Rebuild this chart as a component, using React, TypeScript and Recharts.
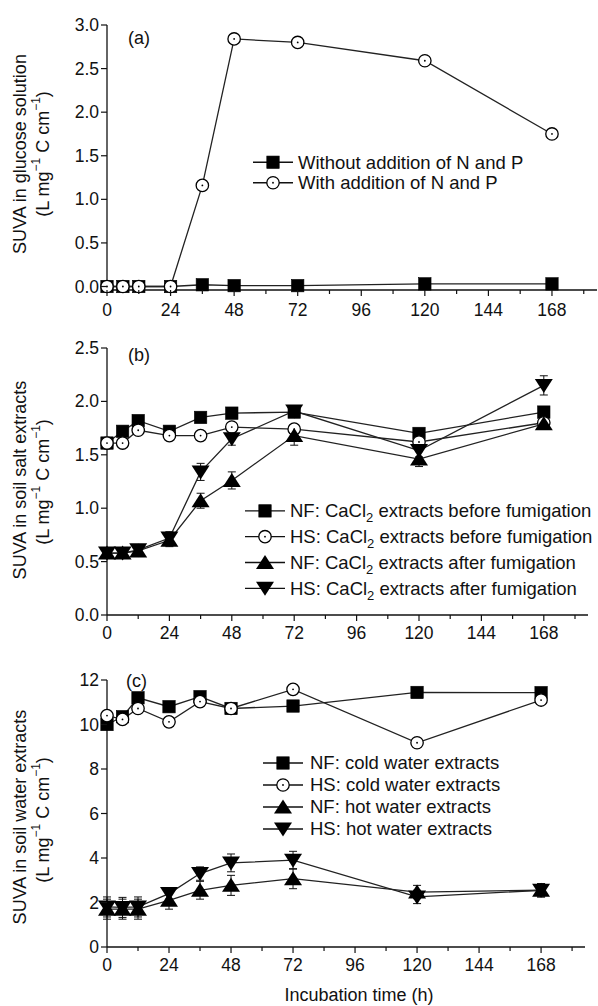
import React from 'react';
import { LineChart, Line, XAxis, YAxis, Legend, ErrorBar } from 'recharts';

const FONT = '"Liberation Sans", Arial, Helvetica, sans-serif';
const INK = '#111';

// ---------- shared x categories ----------
const times = [0, 6, 12, 24, 36, 48, 72, 120, 168];
const xTicks = [0, 12, 24, 36, 48, 60, 72, 84, 96, 108, 120, 132, 144, 156, 168, 180];

// ---------- panel (a) ----------
const withoutNP = [0.0, 0.0, 0.0, 0.0, 0.02, 0.01, 0.01, 0.03, 0.03];
const withNP = [0.0, 0.0, 0.0, 0.0, 1.16, 2.84, 2.8, 2.59, 1.75];
const withNPErr = [0.04, 0.04, 0.04, 0.04, 0.05, 0.02, 0.04, 0.02, 0.02];
const aTicks = [0, 0.5, 1, 1.5, 2, 2.5, 3];

// ---------- panel (b) ----------
const nfBefore = [1.61, 1.72, 1.82, 1.72, 1.85, 1.89, 1.9, 1.7, 1.9];
const hsBefore = [1.61, 1.61, 1.73, 1.68, 1.68, 1.76, 1.74, 1.62, 1.8];
const hsBeforeErr = [0.02, 0.04, 0.04, 0.03, 0.04, 0.04, 0.02, 0.03, 0.02];
const nfAfter = [0.58, 0.58, 0.6, 0.7, 1.07, 1.26, 1.68, 1.46, 1.79];
const nfAfterErr = [0.04, 0.04, 0.04, 0.06, 0.07, 0.08, 0.09, 0.07, 0.05];
const hsAfter = [0.58, 0.58, 0.61, 0.72, 1.34, 1.65, 1.91, 1.54, 2.15];
const hsAfterErr = [0.04, 0.04, 0.04, 0.06, 0.08, 0.06, 0.05, 0.06, 0.09];
const bTicks = [0, 0.5, 1, 1.5, 2, 2.5];

// ---------- panel (c) ----------
const nfCold = [10.0, 10.35, 11.2, 10.8, 11.25, 10.72, 10.83, 11.44, 11.43];
const hsCold = [10.4, 10.23, 10.72, 10.12, 11.03, 10.72, 11.58, 9.18, 11.1];
const hsColdErr = [0.2, 0.2, 0.2, 0.2, 0.2, 0.15, 0.1, 0.2, 0.2];
const nfHot = [1.7, 1.7, 1.7, 2.1, 2.55, 2.77, 3.07, 2.47, 2.55];
const nfHotErr = [0.45, 0.45, 0.45, 0.4, 0.4, 0.45, 0.45, 0.3, 0.3];
const hsHot = [1.8, 1.78, 1.8, 2.4, 3.3, 3.78, 3.9, 2.25, 2.55];
const hsHotErr = [0.45, 0.45, 0.45, 0.25, 0.3, 0.4, 0.4, 0.3, 0.3];
const cTicks = [0, 2, 4, 6, 8, 10, 12];

const dataA = times.map((t, i) => ({ t, s1: withoutNP[i], s2: withNP[i], e2: withNPErr[i] }));
const dataB = times.map((t, i) => ({
  t, s1: nfBefore[i], s2: hsBefore[i], s3: nfAfter[i], s4: hsAfter[i],
  e2: hsBeforeErr[i], e3: nfAfterErr[i], e4: hsAfterErr[i],
}));
const dataC = times.map((t, i) => ({
  t, s1: nfCold[i], s2: hsCold[i], s3: nfHot[i], s4: hsHot[i],
  e2: hsColdErr[i], e3: nfHotErr[i], e4: hsHotErr[i],
}));

type Shape = 'square' | 'circle' | 'up' | 'down';

function Marker({ cx, cy, shape }: { cx?: number; cy?: number; shape: Shape }) {
  if (cx == null || cy == null || isNaN(cx) || isNaN(cy)) return null;
  if (shape === 'square')
    return <rect x={cx - 6.2} y={cy - 6.2} width={12.4} height={12.4} fill="#000" stroke="#000" strokeWidth={0.6} />;
  if (shape === 'circle')
    return (
      <g>
        <circle cx={cx} cy={cy} r={6.2} fill="#fff" stroke="#000" strokeWidth={1.3} />
        <circle cx={cx} cy={cy} r={0.9} fill="#000" />
      </g>
    );
  if (shape === 'up')
    return <polygon points={`${cx},${cy - 7.5} ${cx - 9},${cy + 6.5} ${cx + 9},${cy + 6.5}`} fill="#000" />;
  return <polygon points={`${cx},${cy + 7.5} ${cx - 9},${cy - 6.5} ${cx + 9},${cy - 6.5}`} fill="#000" />;
}

const makeDot = (shape: Shape) => (p: any) => <Marker key={`${shape}-${p.index}`} cx={p.cx} cy={p.cy} shape={shape} />;

const XTick = (props: any) => {
  const { x, y, payload, labelDy } = props;
  const v = payload.value;
  const major = v % 24 === 0;
  return (
    <g>
      <line x1={x} x2={x} y1={y} y2={y + (major ? 6 : 4)} stroke={INK} strokeWidth={1.2} />
      {major && v <= 168 && (
        <text x={x} y={y + labelDy} textAnchor="middle" fontSize={17.5} fontFamily={FONT} fill={INK}>
          {v}
        </text>
      )}
    </g>
  );
};

const YTick = (props: any) => {
  const { x, y, payload, fmt } = props;
  return (
    <g>
      <line x1={x - 6} x2={x} y1={y} y2={y} stroke={INK} strokeWidth={1.2} />
      <text x={x - 8} y={y + 6} textAnchor="end" fontSize={17.5} fontFamily={FONT} fill={INK}>
        {fmt(payload.value)}
      </text>
    </g>
  );
};

const YLabel = ({ title, cy1, cy2, letter, lx, ly }: any) => {
  const x1 = 20;
  const x2 = 43;
  return (
    <g fontFamily={FONT} fill={INK}>
      <text
        x={x1}
        y={cy1}
        transform={`rotate(-90, ${x1}, ${cy1})`}
        textAnchor="middle"
        dominantBaseline="central"
        fontSize={18}
      >
        {title}
      </text>
      <text
        x={x2}
        y={cy2}
        transform={`rotate(-90, ${x2}, ${cy2})`}
        textAnchor="middle"
        dominantBaseline="central"
        fontSize={18}
      >
        <tspan>(L mg</tspan>
        <tspan dy={-7} fontSize={12}>−1</tspan>
        <tspan dy={7}> C cm</tspan>
        <tspan dy={-7} fontSize={12}>−1</tspan>
        <tspan dy={7}>)</tspan>
      </text>
      <text x={lx} y={ly} fontSize={18} dominantBaseline="central">
        {letter}
      </text>
    </g>
  );
};

type LegendItem = { shape: Shape; pre: string; sub?: string; post?: string };

const makeLegend = (items: LegendItem[], rowH: number, lineLen: number, gap: number) => () => (
  <svg width={380} height={rowH * items.length} style={{ display: 'block', overflow: 'visible' }}>
    {items.map((it, i) => {
      const y = rowH * i + rowH / 2;
      return (
        <g key={i}>
          <line x1={0} x2={lineLen} y1={y} y2={y} stroke={INK} strokeWidth={1.3} />
          <Marker cx={lineLen / 2} cy={y} shape={it.shape} />
          <text x={lineLen + gap} y={y + 6.3} fontSize={18.5} fontFamily={FONT} fill={INK}>
            <tspan>{it.pre}</tspan>
            {it.sub && (
              <tspan dy={5} fontSize={13}>
                {it.sub}
              </tspan>
            )}
            {it.post && <tspan dy={it.sub ? -5 : 0}>{it.post}</tspan>}
          </text>
        </g>
      );
    })}
  </svg>
);

const legendA: LegendItem[] = [
  { shape: 'square', pre: 'Without addition of N and P' },
  { shape: 'circle', pre: 'With addition of N and P' },
];
const legendB: LegendItem[] = [
  { shape: 'square', pre: 'NF: CaCl', sub: '2', post: ' extracts before fumigation' },
  { shape: 'circle', pre: 'HS: CaCl', sub: '2', post: ' extracts before fumigation' },
  { shape: 'up', pre: 'NF: CaCl', sub: '2', post: ' extracts after fumigation' },
  { shape: 'down', pre: 'HS: CaCl', sub: '2', post: ' extracts after fumigation' },
];
const legendC: LegendItem[] = [
  { shape: 'square', pre: 'NF: cold water extracts' },
  { shape: 'circle', pre: 'HS: cold water extracts' },
  { shape: 'up', pre: 'NF: hot water extracts' },
  { shape: 'down', pre: 'HS: hot water extracts' },
];

const shapes: Shape[] = ['square', 'circle', 'up', 'down'];

function Panel(props: any) {
  const {
    height, margin, yWidth, domain, ticks, fmt, data, keys, errKeys, legendItems, legendPos, rowH, lineLen, gap,
    title, cy1, cy2, letter, lx, ly, labelDy, xLabel,
  } = props;
  return (
    <LineChart width={598} height={height} data={data} margin={margin} style={{ fontFamily: FONT }}>
      <XAxis
        type="number"
        dataKey="t"
        domain={[0, 185]}
        ticks={xTicks}
        interval={0}
        tickSize={0}
        tickMargin={0}
        tickLine={false}
        axisLine={{ stroke: INK, strokeWidth: 1.3 }}
        tick={<XTick labelDy={labelDy} />}
        height={30}
        label={xLabel}
      />
      <YAxis
        type="number"
        domain={domain}
        ticks={ticks}
        interval={0}
        width={yWidth}
        tickSize={0}
        tickMargin={0}
        tickLine={false}
        axisLine={{ stroke: INK, strokeWidth: 1.3 }}
        tick={<YTick fmt={fmt} />}
        label={<YLabel title={title} cy1={cy1} cy2={cy2} letter={letter} lx={lx} ly={ly} />}
      />
      <Legend
        layout="vertical"
        verticalAlign="middle"
        align="center"
        wrapperStyle={{ left: legendPos[0], top: legendPos[1], width: 380, height: rowH * legendItems.length }}
        content={makeLegend(legendItems, rowH, lineLen, gap)}
      />
      {keys.map((k: string, i: number) => (
        <Line
          key={k}
          type="linear"
          dataKey={k}
          stroke="#222"
          strokeWidth={1.3}
          dot={makeDot(shapes[i])}
          activeDot={false}
          isAnimationActive={false}
          legendType="none"
        >
          {errKeys[i] && <ErrorBar dataKey={errKeys[i]} width={4} stroke="#111" strokeWidth={1} direction="y" />}
        </Line>
      ))}
    </LineChart>
  );
}

const XLabelC = () => (
  <text x={359} y={1001 - 660} textAnchor="middle" fontSize={18} fontFamily={FONT} fill={INK}>
    Incubation time (h)
  </text>
);

export default function App() {
  return (
    <div style={{ position: 'absolute', left: 0, top: 0, width: 598, height: 1006, background: '#fff' }}>
      <Panel
        height={330}
        margin={{ top: 25, right: 1, left: 0, bottom: 10 }}
        yWidth={107}
        domain={[0, 3]}
        ticks={aTicks}
        fmt={(v: number) => v.toFixed(1)}
        data={dataA}
        keys={['s1', 's2']}
        errKeys={[null, 'e2']}
        legendItems={legendA}
        legendPos={[253, 151.5]}
        rowH={20.5}
        lineLen={40}
        gap={5}
        title="SUVA in glucose solution"
        cy1={154}
        cy2={154}
        letter="(a)"
        lx={128}
        ly={38}
        labelDy={26}
      />
      <Panel
        height={330}
        margin={{ top: 18, right: 10, left: 0, bottom: 15 }}
        yWidth={107}
        domain={[0, 2.5]}
        ticks={bTicks}
        fmt={(v: number) => v.toFixed(1)}
        data={dataB}
        keys={['s1', 's2', 's3', 's4']}
        errKeys={[null, 'e2', 'e3', 'e4']}
        legendItems={legendB}
        legendPos={[245, 511 - 330 - 12.9]}
        rowH={25.8}
        lineLen={40}
        gap={5}
        title="SUVA in soil salt extracts"
        cy1={480 - 330}
        cy2={482 - 330}
        letter="(b)"
        lx={128}
        ly={25}
        labelDy={24}
      />
      <Panel
        height={346}
        margin={{ top: 20, right: 13, left: 0, bottom: 29 }}
        yWidth={107}
        domain={[0, 12]}
        ticks={cTicks}
        fmt={(v: number) => String(v)}
        data={dataC}
        keys={['s1', 's2', 's3', 's4']}
        errKeys={[null, 'e2', 'e3', 'e4']}
        legendItems={legendC}
        legendPos={[263, 762.5 - 660 - 11]}
        rowH={22}
        lineLen={40}
        gap={7}
        title="SUVA in soil water extracts"
        cy1={817 - 660}
        cy2={820 - 660}
        letter="(c)"
        lx={126}
        ly={21}
        labelDy={24}
        xLabel={<XLabelC />}
      />
    </div>
  );
}
